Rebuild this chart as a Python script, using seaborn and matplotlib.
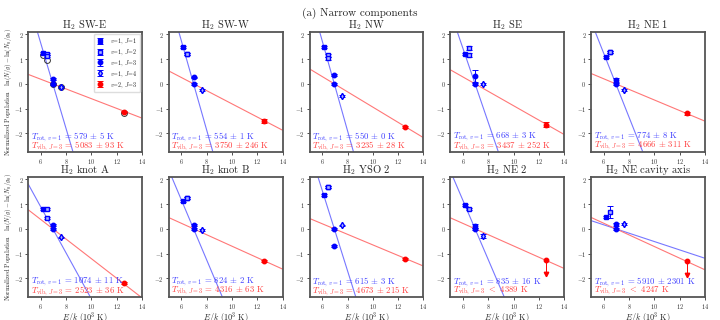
import numpy as np
import pandas as pd
import matplotlib
matplotlib.use("Agg")
import matplotlib.pyplot as plt
import seaborn as sns

# ---------------- data ----------------
names = ["SW-E", "SW-W", "NW", "SE", "NE 1",
         "knot A", "knot B", "YSO 2", "NE 2", "NE cavity axis"]

# upper level energies E/k in 10^3 K
e_j1, e_j2, e_j3, e_j4, e_v2 = 6.149, 6.471, 6.956, 7.586, 12.550

j1_y = [1.24, 1.49, 1.51, 1.22, 1.10, 0.81, 1.12, 1.35, 0.97, 0.47]
j2a_y = [1.20, 1.19, 1.15, 1.45, 1.28, 0.81, 1.24, 1.69, 0.82, 0.68]
j2b_y = [1.12, 1.20, 1.03, 1.18, 1.28, 0.45, 1.24, 1.69, np.nan, np.nan]
j2_err = [0.04, 0.04, 0.05, 0.08, 0.05, 0.04, 0.03, 0.04, 0.04, 0.25]
j3a_y = [0.20, 0.26, 0.35, 0.32, 0.16, 0.14, 0.16, -0.69, 0.10, 0.19]
j3a_err = [0.04, 0.03, 0.04, 0.25, 0.07, 0.04, 0.03, 0.05, 0.08, 0.06]
j3b_y = [0.0, 0.0, 0.0, 0.0, 0.0, 0.0, 0.0, 0.0, 0.0, 0.0]
j4_y = [-0.13, -0.24, -0.49, 0.0, -0.24, -0.35, -0.04, 0.14, -0.31, 0.19]
j4_err = [0.03, 0.03, 0.03, 0.03, 0.03, 0.03, 0.03, 0.03, 0.08, 0.03]
v2_y = [-1.12, -1.50, -1.73, -1.65, -1.20, -2.20, -1.31, -1.22, -1.27, -1.31]
v2_err = [0.04, 0.08, 0.04, 0.10, 0.06, 0.04, 0.03, 0.04, 0.0, 0.0]
v2_upper = [False] * 8 + [True, True]
upper_len = 0.56

# open black circles, only in SW-E
circ_x = [6.149, 6.471, 6.956, 7.586, 12.550]
circ_y = [1.15, 0.95, -0.02, -0.13, -1.17]

t_rot = [579, 554, 550, 668, 774, 1074, 824, 615, 835, 5910]
t_rot_err = [5, 1, 0, 3, 8, 11, 2, 3, 16, 2301]
t_vib = [5083, 3750, 3235, 3437, 4666, 2523, 4316, 4673, 4389, 4247]
t_vib_err = [93, 246, 28, 252, 311, 36, 63, 215, None, None]

# ---------------- style ----------------
sns.set_style("ticks")
plt.rcParams["font.family"] = ["cmr10", "DejaVu Serif"]
plt.rcParams["mathtext.fontset"] = "cm"
plt.rcParams["axes.formatter.use_mathtext"] = True
plt.rcParams["axes.unicode_minus"] = True

blue = "#0000ff"
red = "#ff0000"
lblue = "#7777ff"
lred = "#ff7777"

fig, axes = plt.subplots(2, 5, figsize=(7.2, 3.2), dpi=100)
fig.subplots_adjust(left=0.039, right=0.979, top=0.9, bottom=0.072,
                    wspace=0.237, hspace=0.208)

xs = np.array([5.0, 14.0])
kw = dict(capsize=2.0, elinewidth=0.7, capthick=0.7, markersize=3.2, ls="none")

for i, ax in enumerate(axes.flat):
    # fits
    sns.lineplot(x=xs, y=-(xs - e_j3) / (t_rot[i] / 1000), ax=ax,
                 color=lblue, lw=0.8, zorder=1)
    sns.lineplot(x=xs, y=-(xs - e_j3) / (t_vib[i] / 1000), ax=ax,
                 color=lred, lw=0.8, zorder=1)

    if i == 0:
        ax.plot(circ_x, circ_y, "o", mfc="none", mec="#333333", ms=4.2,
                mew=0.7, zorder=2)

    h1 = ax.errorbar([e_j1], [j1_y[i]], yerr=0.04, fmt="s", color=blue,
                     **kw)
    h2 = ax.errorbar([e_j2, e_j2], [j2a_y[i], j2b_y[i]], yerr=j2_err[i],
                     fmt="s", color=blue, mfc="#aab4ff", **kw)
    h3 = ax.errorbar([e_j3, e_j3], [j3a_y[i], j3b_y[i]],
                     yerr=[j3a_err[i], 0.03], fmt="o", color=blue, **kw)
    h4 = ax.errorbar([e_j4], [j4_y[i]], yerr=j4_err[i], fmt="d",
                     color=blue, mfc="#aab4ff", **kw)
    if v2_upper[i]:
        h5 = ax.errorbar([e_v2], [v2_y[i]], yerr=[[upper_len], [0]],
                         fmt="o", color=red, capsize=0, elinewidth=0.7,
                         markersize=3.2, ls="none")
        ax.plot([e_v2], [v2_y[i] - upper_len], "v", color=red, ms=3.2)
    else:
        h5 = ax.errorbar([e_v2], [v2_y[i]], yerr=v2_err[i], fmt="o",
                         color=red, **kw)

    if i == 0:
        ax.legend([h1, h2, h3, h4, h5],
                  ["$v$=1, $J$=1", "$v$=1, $J$=2", "$v$=1, $J$=3",
                   "$v$=1, $J$=4", "$v$=2, $J$=3"],
                  loc="upper right", fontsize=4.4, frameon=True,
                  handlelength=1.0, handleheight=0.5, borderpad=0.4,
                  labelspacing=0.22, handletextpad=1.2, framealpha=1,
                  edgecolor="#dddddd", borderaxespad=0.3)

    # temperature labels
    rot = r"$T_{\rm rot,\,\mathit{v}=1}$ = %d $\pm$ %d K" % (t_rot[i], t_rot_err[i])
    if t_vib_err[i] is None:
        vib = r"$T_{\rm vib,\,\mathit{J}=3}$ $<$ %d K" % t_vib[i]
    else:
        vib = r"$T_{\rm vib,\,\mathit{J}=3}$ = %d $\pm$ %d K" % (t_vib[i], t_vib_err[i])
    ax.text(5.2, -2.14, rot, color="#4040ff", fontsize=6.3, va="center")
    ax.text(5.2, -2.52, vib, color="#ff4040", fontsize=6.3, va="center")

    ax.set_xlim(5, 14)
    ax.set_ylim(-2.76, 2.1)
    ax.set_xticks([6, 8, 10, 12, 14])
    ax.set_yticks([-2, -1, 0, 1, 2])
    ax.tick_params(labelsize=4.5, length=2.2, width=0.6, pad=1.2,
                   colors="#333333")
    for s in ax.spines.values():
        s.set_color("#555555")
        s.set_linewidth(1.3)
    ax.set_title(r"H$_2$ " + names[i], fontsize=7.6, pad=2.5)
    ax.set_xlabel("")
    ax.set_ylabel("")
    if i >= 5:
        ax.set_xlabel(r"$E/k$ ($10^3$ K)", fontsize=5.9, labelpad=-0.8)
    if i % 5 == 0:
        ax.set_ylabel(r"Normalized Population   $\ln(N/g) - \ln(N_0/g_0)$",
                      fontsize=4.6)
        ax.yaxis.set_label_coords(-0.125, 0.5)

fig.suptitle("(a) Narrow components", fontsize=8, y=0.975)
fig.savefig("out.png", dpi=100)
